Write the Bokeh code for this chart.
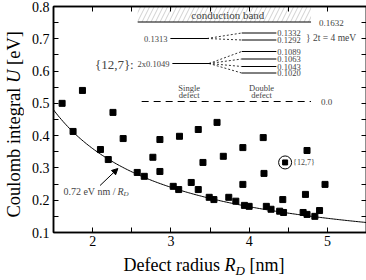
import numpy as np
from bokeh.plotting import figure
from bokeh.layouts import column, row
from bokeh.models import (LinearAxis, FixedTicker, Label, Arrow, NormalHead,
                          CustomJSTickFormatter, Range1d, Div)
from bokeh.embed import file_html
from bokeh.resources import INLINE

# ---------------- data ----------------
radius_nm = [1.61, 1.87, 1.75, 2.26, 2.39, 2.10, 2.20, 2.57, 2.66, 2.77, 2.86, 2.86,
             3.11, 3.35, 3.59, 3.92, 4.18, 3.67, 3.41, 3.26, 3.92, 3.03, 3.10, 3.35,
             3.49, 3.55, 3.74, 3.83, 3.94, 4.00, 4.19, 4.22, 4.28, 4.39, 4.44, 4.43,
             4.72, 4.69, 4.74, 4.84, 4.90, 4.97, 4.74]
coulomb_ev = [0.500, 0.540, 0.413, 0.472, 0.391, 0.357, 0.326, 0.286, 0.274, 0.333, 0.388, 0.289,
              0.398, 0.419, 0.441, 0.363, 0.394, 0.336, 0.317, 0.255, 0.249, 0.243, 0.233, 0.233,
              0.209, 0.202, 0.209, 0.197, 0.184, 0.181, 0.283, 0.181, 0.172, 0.166, 0.162, 0.202,
              0.218, 0.162, 0.156, 0.150, 0.168, 0.249, 0.354]
highlight_radius = [4.46]
highlight_u = [0.317]
highlight_name = "{12,7}"
fit_coeff = 0.72          # eV nm

x_tick_values = [2, 3, 4, 5]
x_minor_values = [1.5, 2.5, 3.5, 4.5, 5.5]
y_tick_values = [0.1, 0.2, 0.3, 0.4, 0.5, 0.6, 0.7, 0.8]
y_minor_values = [0.15, 0.25, 0.35, 0.45, 0.55, 0.65, 0.75]

band_edge_label = "0.1632"
single_labels = ["0.1313", "2x0.1049"]
pair_labels = ["0.1332", "0.1292"]
quad_labels = ["0.1089", "0.1063", "0.1043", "0.1020"]

# ---------------- layout ----------------
X0, X1, Y0, Y1 = 1.5, 5.5, 0.1, 0.8
YDIV_W = 18
W, H = 358 - YDIV_W, 250
XDIV_H = 280 - 8 - H
BL, BR, BT, BB = 24, 2, 6, 18
FW, FH = W - BL - BR, H - BT - BB
FONT = "Liberation Serif"
CSS_FONT = "'Liberation Serif', serif"


def rx(px):  # reference-picture pixel -> data x (schematic inset placement)
    return X0 + (px - 48) * (X1 - X0) / 316


def ry(py):
    return Y1 - (py - 8) * (Y1 - Y0) / 226


p = figure(width=W, height=H, output_backend="svg", toolbar_location=None,
           x_range=Range1d(X0, X1), y_range=Range1d(Y0, Y1),
           min_border_left=BL, min_border_right=BR, min_border_top=BT, min_border_bottom=BB)
p.grid.visible = False
p.outline_line_color = "black"
p.outline_line_width = 1.5

for ax in (p.xaxis[0], p.yaxis[0]):
    ax.axis_line_width = 1.5
    ax.major_tick_in = 5
    ax.major_tick_out = 0
    ax.minor_tick_in = 5
    ax.minor_tick_out = 0
    ax.major_label_text_font = FONT
    ax.major_label_text_font_size = "14px"
    ax.major_label_text_color = "black"
p.xaxis[0].ticker = FixedTicker(ticks=x_tick_values, minor_ticks=x_minor_values)
p.yaxis[0].ticker = FixedTicker(ticks=y_tick_values, minor_ticks=y_minor_values)
p.xaxis[0].major_label_standoff = 3
p.yaxis[0].major_label_standoff = 4

blank = CustomJSTickFormatter(code="return ''")
top_ax = LinearAxis(ticker=FixedTicker(ticks=x_tick_values, minor_ticks=x_minor_values),
                    formatter=blank, major_tick_in=5, major_tick_out=0, minor_tick_in=5,
                    minor_tick_out=0, major_label_standoff=0, axis_line_width=1.5)
right_ax = LinearAxis(ticker=FixedTicker(ticks=y_tick_values, minor_ticks=y_minor_values),
                      formatter=blank, major_tick_in=5, major_tick_out=0, minor_tick_in=5,
                      minor_tick_out=0, major_label_standoff=0, axis_line_width=1.5)
p.add_layout(top_ax, "above")
p.add_layout(right_ax, "right")

# ---- fit curve ----
r_curve = np.linspace(X0, X1, 200)
p.line(r_curve, fit_coeff / r_curve, line_color="black", line_width=1)

# ---- data points ----
p.scatter(radius_nm, coulomb_ev, marker="square", size=6, fill_color="black", line_color="black")
p.scatter(highlight_radius, highlight_u, marker="circle", size=13, fill_color=None,
          line_color="black", line_width=1)
p.scatter(highlight_radius, highlight_u, marker="square", size=5, fill_color="black", line_color="black")
p.add_layout(Label(x=highlight_radius[0], y=highlight_u[0], x_offset=8, text=highlight_name,
                   text_font=FONT, text_font_size="8px", text_baseline="middle"))

# ---- fit annotation ----
p.add_layout(Arrow(end=NormalHead(size=6, fill_color="black", line_color="black", line_width=1),
                   x_start=rx(95), y_start=ry(187), x_end=rx(113), y_end=ry(170),
                   line_color="black", line_width=1))
p.add_layout(Label(x=rx(58), y=ry(193), text="0.72 eV nm / ", text_font=FONT,
                   text_font_size="10px", text_baseline="middle"))
p.add_layout(Label(x=rx(112.5), y=ry(193), text="R", text_font=FONT, text_font_style="italic",
                   text_font_size="10px", text_baseline="middle"))
p.add_layout(Label(x=rx(118.6), y=ry(195.5), text="D", text_font=FONT, text_font_style="italic",
                   text_font_size="7px", text_baseline="middle"))

# ---- inset: conduction band ----
p.quad(left=rx(133), right=rx(308), bottom=ry(23.5), top=ry(8), fill_alpha=0, line_alpha=0,
       hatch_pattern="/", hatch_color="black", hatch_alpha=0.3, hatch_scale=9, hatch_weight=0.6)
p.segment(rx(133), ry(23.5), rx(308), ry(23.5), line_color="black", line_width=1)
p.add_layout(Label(x=rx(224), y=ry(16), text="conduction band", text_font=FONT,
                   text_font_size="11px", text_align="center", text_baseline="middle"))
p.add_layout(Label(x=rx(316), y=ry(24), text=band_edge_label, text_font=FONT,
                   text_font_size="9px", text_baseline="middle"))

# ---- inset: single-defect levels ----
single_py = [40, 65]
p.add_layout(Label(x=rx(163), y=ry(single_py[0]), text=single_labels[0], text_font=FONT,
                   text_font_size="8.5px", text_align="right", text_baseline="middle"))
p.add_layout(Label(x=rx(165), y=ry(single_py[1]), text=single_labels[1], text_font=FONT,
                   text_font_size="8.5px", text_align="right", text_baseline="middle"))
p.add_layout(Label(x=rx(129), y=ry(66), text="{12,7}:", text_font=FONT,
                   text_font_size="13px", text_align="right", text_baseline="middle"))
p.segment([rx(166), rx(168)], [ry(v) for v in single_py], [rx(203), rx(205)],
          [ry(v) for v in single_py], line_color="black", line_width=1)

# ---- inset: double-defect levels ----
pair_py = [34.5, 41.5]
quad_py = [53, 60.5, 68, 74.5]
fan_x0 = [rx(203)] * 2 + [rx(205)] * 4
fan_y0 = [ry(single_py[0])] * 2 + [ry(single_py[1])] * 4
fan_y1 = [ry(v) for v in pair_py + quad_py]
p.segment(fan_x0, fan_y0, [rx(238)] * 6, fan_y1, line_color="black", line_width=0.8,
          line_dash="2 2")
p.segment([rx(238)] * 6, fan_y1, [rx(273)] * 6, fan_y1, line_color="black", line_width=1)
for lab, py in zip(pair_labels + quad_labels, pair_py + quad_py):
    p.add_layout(Label(x=rx(274), y=ry(py), text=lab, text_font=FONT, text_font_size="8.5px",
                       text_baseline="middle"))
p.add_layout(Label(x=rx(303), y=ry(39), text="} 2t = 4 meV", text_font=FONT,
                   text_font_size="9.5px", text_baseline="middle"))

# ---- inset: zero level ----
p.segment(rx(137), ry(103), rx(308), ry(103), line_color="black", line_width=1.2, line_dash="7 5")
p.add_layout(Label(x=rx(318), y=ry(103), text="0.0", text_font=FONT, text_font_size="9px",
                   text_baseline="middle"))
for cx, words in ((185, ("Single", "defect")), (258, ("Double", "defect"))):
    for word, py in zip(words, (89, 96)):
        p.add_layout(Label(x=rx(cx), y=ry(py), text=word, text_font=FONT, text_font_size="8.5px",
                           text_align="center", text_baseline="middle"))

# ---- axis titles (HTML, for italic symbol and subscript) ----
ydiv = Div(width=YDIV_W, height=H, styles={"overflow": "visible"}, text=(
    f'<div style="width:{YDIV_W}px;height:{FH}px;margin-top:{BT}px;display:flex;'
    f'align-items:center;justify-content:center;">'
    f'<div style="writing-mode:vertical-rl;transform:rotate(180deg);font-family:{CSS_FONT};'
    f'font-size:18.5px;line-height:18px;white-space:nowrap;color:black;">'
    f'Coulomb integral <i>U</i> [eV]</div></div>'))
xdiv = Div(width=YDIV_W + W, height=XDIV_H, styles={"overflow": "visible"}, text=(
    f'<div style="position:relative;top:-10px;width:{FW}px;margin-left:{YDIV_W + BL}px;'
    f'text-align:center;font-family:{CSS_FONT};font-size:18px;line-height:20px;'
    f'white-space:nowrap;color:black;">'
    f'Defect radius <i>R</i><sub style="font-size:13px;line-height:0;vertical-align:-4px;">'
    f'<i>D</i></sub> [nm]</div>'))

layout = column(row(ydiv, p, spacing=0), xdiv, spacing=0)
open("out.html", "w").write(file_html(layout, INLINE))
